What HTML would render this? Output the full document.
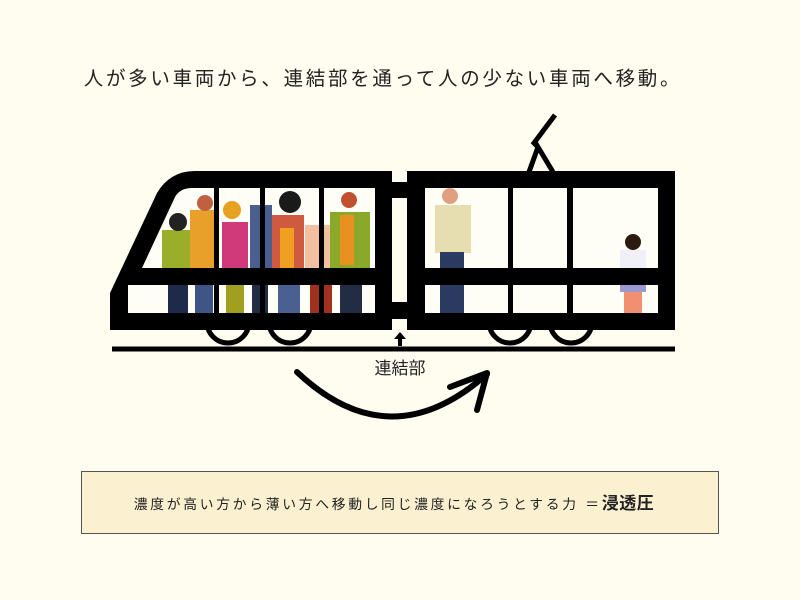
<!DOCTYPE html>
<html><head><meta charset="utf-8"><style>
html,body{margin:0;padding:0;background:#fefdf0;}
body{width:800px;height:600px;position:relative;overflow:hidden;font-family:"Liberation Sans","Noto Sans CJK JP",sans-serif;}
.t{position:absolute;left:0;width:800px;text-align:center;color:#222;}
</style></head><body>
<div class="t" style="top:62px;font-size:19.5px;letter-spacing:2.7px;left:-17px;">人が多い車両から、連結部を通って人の少ない車両へ移動。</div>
<svg width="800" height="600" style="position:absolute;left:0;top:0">
<g fill="none" stroke="#000" stroke-width="5">
<circle cx="228" cy="322" r="21"/><circle cx="290" cy="322" r="21"/>
<circle cx="510" cy="322" r="21"/><circle cx="571" cy="322" r="21"/>
</g>
<line x1="112" y1="349" x2="675" y2="349" stroke="#000" stroke-width="5"/>
<polyline points="529,172 538,147 553,172" fill="none" stroke="#000" stroke-width="5"/>
<polyline points="538,147 534,143 555,115" fill="none" stroke="#000" stroke-width="5"/>
<path d="M110,330 L110,293 L157,193 Q170,171 195,171 L392,171 L392,330 Z" fill="#000"/>
<path d="M142,268 L175,197 Q180,188 192,188 L375,188 L375,268 Z" fill="#fffef6"/>
<rect x="128" y="285" width="247" height="28" fill="#fffef6"/>
<g>
<rect x="162" y="230" width="30" height="40" fill="#9aae2a"/><rect x="168" y="268" width="20" height="45" fill="#1e2a4a"/><circle cx="178" cy="222" r="9" fill="#222"/>
<rect x="190" y="210" width="25" height="60" fill="#e8a02a"/><rect x="195" y="268" width="18" height="45" fill="#3e5585"/><circle cx="205" cy="203" r="8" fill="#c06040"/>
<rect x="222" y="222" width="26" height="48" fill="#d03a7a"/><rect x="226" y="268" width="18" height="45" fill="#a0a020"/><circle cx="232" cy="210" r="9" fill="#e8a020"/>
<rect x="250" y="205" width="22" height="65" fill="#4a5f90"/><rect x="252" y="268" width="16" height="45" fill="#222c44"/>
<rect x="272" y="215" width="32" height="55" fill="#d05a40"/><rect x="280" y="228" width="14" height="40" fill="#f0a020"/><rect x="278" y="268" width="22" height="45" fill="#4a6090"/><circle cx="290" cy="202" r="11" fill="#1a1a1a"/>
<rect x="305" y="225" width="30" height="45" fill="#f2c0a0"/><rect x="310" y="268" width="22" height="45" fill="#a03020"/>
<rect x="330" y="212" width="40" height="58" fill="#8aa82a"/><rect x="340" y="215" width="14" height="50" fill="#e89020"/><rect x="340" y="268" width="22" height="45" fill="#222c44"/><circle cx="349" cy="200" r="8" fill="#c05030"/>
</g>
<g fill="#000"><rect x="214" y="188" width="5" height="125"/><rect x="260" y="188" width="5" height="125"/><rect x="319" y="188" width="5" height="125"/></g>
<rect x="128" y="268" width="247" height="17" fill="#000"/>
<rect x="392" y="182" width="15" height="16" fill="#000"/>
<rect x="392" y="302" width="15" height="17" fill="#000"/>
<rect x="407" y="171" width="268" height="159" fill="#000"/>
<rect x="425" y="188" width="233" height="80" fill="#fffef6"/>
<rect x="425" y="285" width="233" height="28" fill="#fffef6"/>
<g>
<rect x="435" y="205" width="36" height="48" fill="#e6ddb0"/><rect x="440" y="252" width="24" height="61" fill="#2a3a60"/><circle cx="450" cy="196" r="8" fill="#e0a080"/>
<rect x="620" y="250" width="26" height="22" fill="#f0f0f8"/><rect x="620" y="268" width="26" height="24" fill="#9a9ad0"/><rect x="624" y="292" width="18" height="21" fill="#f09070"/><circle cx="633" cy="242" r="8" fill="#2a1a10"/>
</g>
<g fill="#000"><rect x="508" y="188" width="5" height="125"/><rect x="567" y="188" width="6" height="125"/></g>
<rect x="425" y="268" width="233" height="17" fill="#000"/>
<line x1="400" y1="338" x2="400" y2="346" stroke="#000" stroke-width="4"/>
<polygon points="394,339 406,339 400,332" fill="#000"/>
<path d="M297,372 Q390,460 487,374" fill="none" stroke="#000" stroke-width="6" stroke-linecap="round"/>
<polyline points="450,387 487,373 477,410" fill="none" stroke="#000" stroke-width="6" stroke-linecap="round" stroke-linejoin="round"/>
</svg>
<div class="t" style="top:354px;font-size:17px;">連結部</div>
<div style="position:absolute;left:81px;top:471px;width:636px;height:61px;background:#fbf0d0;border:1px solid #555;"></div>
<div class="t" style="top:489px;font-size:13.8px;letter-spacing:2.7px;color:#222;left:-6px;">濃度が高い方から薄い方へ移動し同じ濃度になろうとする力 ＝<b style="font-size:17px;letter-spacing:0.5px">浸透圧</b></div>
</body></html>
